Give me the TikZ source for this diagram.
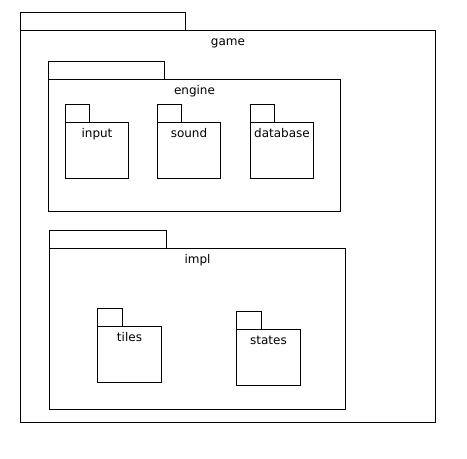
\documentclass[tikz,border=0pt]{standalone}
\usepackage{fontspec}
\setmainfont{DejaVu Sans}
\begin{document}
\begin{tikzpicture}[x=0.75pt,y=-0.75pt,line width=0.75pt,line join=miter,font=\fontsize{9}{11}\selectfont]

	% Khung
	\useasboundingbox (0,0) rectangle (467,458);
	
	% Gói: tên, x trái, y tab, rộng tab, x phải, y đáy, nhãn
	\newcommand{\pkg}[7]{%
		\draw (#2,#3) rectangle (#2+#4,#3+18); % tab
		\draw (#2,#3+18) rectangle (#5,#6); % thân
		\node[anchor=base,inner sep=0pt] (#1) at ({(#2+#5)/2+0.5},#3+33) {#7};
	}
	
	% Gói ngoài
	\pkg{game}{20}{12}{165}{435}{422}{game}
	
	% engine
	\pkg{engine}{48}{61}{116}{340}{211}{engine}
	\pkg{input}{65}{104}{24}{128}{178}{input}
	\pkg{sound}{157}{104}{24}{220}{178}{sound}
	\pkg{database}{250}{104}{24}{313}{178}{database}
	
	% impl
	\pkg{impl}{49}{230}{117}{345}{409}{impl}
	\pkg{tiles}{97}{308}{25}{161}{382}{tiles}
	\pkg{states}{236}{311}{25}{300}{385}{states}
	
\end{tikzpicture}
\end{document}
